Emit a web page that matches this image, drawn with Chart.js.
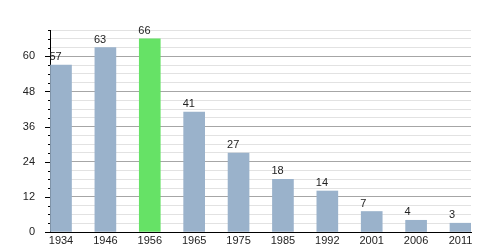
<!DOCTYPE html>
<html>
<head>
<meta charset="utf-8">
<script src="https://cdn.jsdelivr.net/npm/chart.js@4"></script>
<style>
  html, body { margin: 0; padding: 0; background: #fff; }
  #wrap { width: 500px; height: 250px; position: relative; }
</style>
</head>
<body>
<div id="wrap"><canvas id="c"></canvas></div>
<script>
const years = ['1934', '1946', '1956', '1965', '1975', '1985', '1992', '2001', '2006', '2011'];
const population = [57, 63, 66, 41, 27, 18, 14, 7, 4, 3];
const highlightYear = '1956';
const yMax = 69;
const yMinorStep = 3;
const yMajorStep = 12;

const BLUE = '#9ab2cb';
const GREEN = '#66e266';
const FONT = '"Liberation Sans", Arial, sans-serif';

const valueLabels = {
  id: 'valueLabels',
  afterDatasetsDraw(chart) {
    const ctx = chart.ctx;
    const meta = chart.getDatasetMeta(0);
    ctx.save();
    ctx.font = '11px ' + FONT;
    ctx.fillStyle = '#222';
    ctx.textAlign = 'left';
    ctx.textBaseline = 'alphabetic';
    meta.data.forEach((bar, i) => {
      const left = bar.x - bar.width / 2 - 1;
      ctx.fillText(String(population[i]), left, bar.y - 5);
    });
    ctx.restore();
  }
};

const yTickMarks = {
  id: 'yTickMarks',
  afterDraw(chart) {
    const ctx = chart.ctx;
    const y = chart.scales.y;
    const left = chart.chartArea.left;
    ctx.save();
    ctx.strokeStyle = '#000';
    ctx.lineWidth = 1;
    for (let v = 0; v <= yMax; v += yMinorStep) {
      const py = Math.round(y.getPixelForValue(v)) + 0.5;
      const len = (v % yMajorStep === 0) ? 5 : 2;
      ctx.beginPath();
      ctx.moveTo(left - len, py);
      ctx.lineTo(left, py);
      ctx.stroke();
    }
    ctx.restore();
  }
};

const xMin = -0.2478, xMax = 9.2367;

new Chart(document.getElementById('c'), {
  type: 'bar',
  data: {
    datasets: [{
      data: population.map((v, i) => ({ x: i, y: v })),
      backgroundColor: years.map(y => y === highlightYear ? GREEN : BLUE),
      borderWidth: 0,
      barThickness: 21
    }]
  },
  options: {
    responsive: true,
    maintainAspectRatio: false,
    animation: false,
    events: [],
    layout: { padding: { top: 30, right: 29, left: 0, bottom: 0 } },
    plugins: { legend: { display: false }, tooltip: { enabled: false } },
    scales: {
      x: {
        type: 'linear',
        offset: false,
        min: xMin,
        max: xMax,
        afterBuildTicks(scale) { scale.ticks = years.map((_, i) => ({ value: i })); },
        afterFit(scale) { scale.height = 18; scale.paddingLeft = 0; scale.paddingRight = 0; },
        grid: { display: false, drawTicks: false },
        border: { display: true, color: '#000', width: 1 },
        ticks: {
          autoSkip: false,
          maxRotation: 0,
          padding: 2,
          color: '#222',
          font: { family: FONT, size: 11 },
          callback: (v) => years[v]
        }
      },
      y: {
        min: 0,
        max: yMax,
        afterFit(scale) { scale.width = 50; scale.paddingTop = 0; scale.paddingBottom = 0; },
        ticks: {
          stepSize: yMinorStep,
          autoSkip: false,
          padding: 15,
          color: '#222',
          font: { family: FONT, size: 11 },
          callback: (v) => (v % yMajorStep === 0 ? String(v) : '')
        },
        grid: {
          drawTicks: false,
          color: (c) => (c.tick && c.tick.value % yMajorStep === 0 ? '#a6a6a6' : '#e2e2e2'),
          lineWidth: 1
        },
        border: { display: true, color: '#000', width: 1 }
      }
    }
  },
  plugins: [valueLabels, yTickMarks]
});
</script>
</body>
</html>
